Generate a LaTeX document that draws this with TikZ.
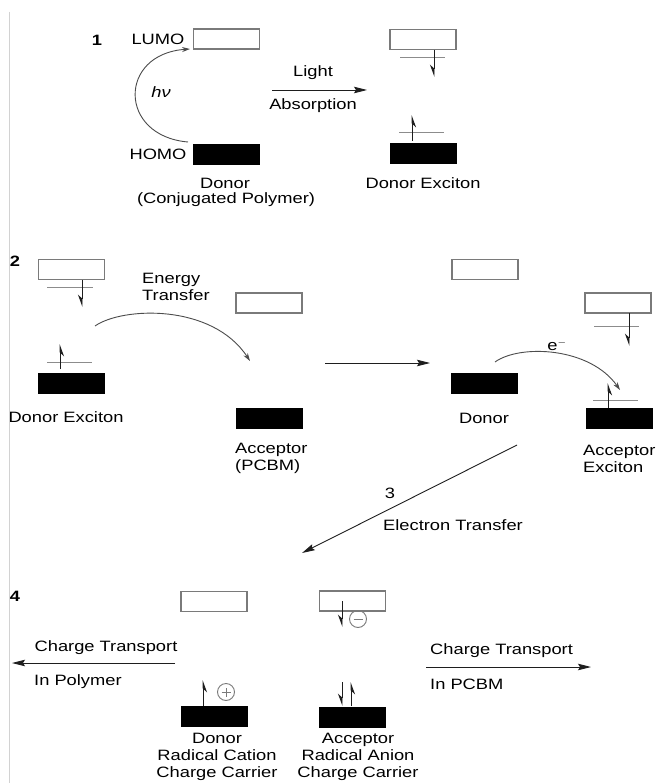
\documentclass[tikz,border=0pt]{standalone}
\usepackage{fontspec}
\setmainfont{Liberation Sans}[FakeStretch=1.22]
\usetikzlibrary{arrows.meta}

\definecolor{boxgray}{HTML}{7A7A7A}
\definecolor{levelgray}{HTML}{8C8C8C}
\definecolor{inkgray}{HTML}{1E1E1E}

\tikzset{
  lumo/.style={draw=boxgray, line width=1.3pt, fill=white, minimum width=66pt,
               minimum height=20pt, inner sep=0pt},
  homo/.style={fill=black, minimum width=67pt, minimum height=21pt, inner sep=0pt},
  level/.style={draw=levelgray, line width=1pt},
  spin/.style={draw=inkgray, line width=0.9pt,
               -{Stealth[harpoon,swap,length=11pt,width=8pt]}},
  arr/.style={draw=inkgray, line width=0.9pt,
              -{Stealth[length=13pt,width=6.5pt,inset=2pt]}},
  curv/.style={draw=black!70, line width=0.9pt, -{Stealth[length=8pt,width=5pt]}},
  lbl/.style={font=\fontsize{15}{17}\selectfont, inner sep=0pt, text=black},
  num/.style={lbl, font=\fontsize{15}{17}\selectfont\bfseries},
  charge/.style={draw=boxgray, line width=0.9pt, circle, minimum size=17pt, inner sep=0pt},
  sign/.style={draw=boxgray, line width=0.9pt}
}

\begin{document}
\begin{tikzpicture}[x=1pt, y=-1pt]
\useasboundingbox (0,0) rectangle (656,783);
\fill[white] (0,0) rectangle (656,783);
\draw[gray!35, line width=0.8pt] (9,12) -- (9,783);

% ---------------- stage 1: light absorption ----------------
\node[num] (n1) at (97,40) {1};
\node[lbl] (tLUMO) at (158,39) {LUMO};
\node[lbl] (tHOMO) at (158,154) {HOMO};
\node[lumo] (L1) at (226.5,39) {};
\node[homo] (H1) at (226.5,155) {};
\node[lbl, font=\fontsize{15}{17}\selectfont\itshape] (hv) at (161,92) {hν};
\coordinate (hvA) at (188,142);
\coordinate (hvB) at (190,49);
\draw[curv] (hvA) .. controls (118,136) and (118,54) .. (hvB);
\node[lbl] (tDon1) at (225,183) {Donor};
\node[lbl] (tConj) at (226,200) {(Conjugated Polymer)};

\coordinate (la1) at (272,90);
\coordinate (la2) at (367,90);
\draw[arr] (la1) -- (la2);
\node[lbl] (tLight) at (313,73) {Light};
\node[lbl] (tAbs) at (313,106) {Absorption};

\node[lumo] (L1b) at (423,39.5) {};
\node[homo] (H1b) at (423,154) {};
\draw[level] (400,58) -- (445,58);
\draw[spin] (434,50) -- (434,77);
\draw[level] (399,133) -- (444,133);
\draw[spin] (412,141) -- (412,115);
\node[lbl] (tDX1) at (423,183) {Donor Exciton};

% ---------------- stage 2: energy transfer ----------------
\node[num] (n2) at (15,261) {2};
\node[lumo] (L2a) at (71.5,269.5) {};
\node[homo] (H2a) at (71,383.5) {};
\draw[level] (47,287) -- (93,287);
\draw[spin] (82,280) -- (82,307);
\draw[level] (47,362) -- (92,362);
\draw[spin] (60,369) -- (60,344);
\node[lbl] (tDX2) at (66,417) {Donor Exciton};

\node[lbl, anchor=west, align=left] (tET) at (142,286.5) {Energy\\Transfer};
\coordinate (et1) at (95,326);
\coordinate (et2) at (250,361);
\draw[curv] (et1) .. controls (122,307) and (212,303) .. (et2);

\node[lumo] (L2b) at (269,303) {};
\node[homo] (H2b) at (269.5,418.5) {};
\node[lbl, anchor=west, align=left] (tAcc) at (235,458.5) {Acceptor\\(PCBM)};

\coordinate (mid1) at (325,363);
\coordinate (mid2) at (430,363);
\draw[arr] (mid1) -- (mid2);

\node[lumo] (L2c) at (485,269.5) {};
\node[homo] (H2c) at (484.5,383.5) {};
\node[lbl] (tDon2) at (484,418) {Donor};

\coordinate (ea1) at (495,362);
\coordinate (ea2) at (620,390);
\draw[curv] (ea1) .. controls (520,344) and (590,347) .. (ea2);
\node[lbl] (te) at (557,345) {e$^{-}$};

\node[lumo] (L2d) at (618,303) {};
\node[homo] (H2d) at (619,418.5) {};
\draw[level] (594,326) -- (639,326);
\draw[spin] (629,313) -- (629,346);
\draw[level] (593,400) -- (638,400);
\draw[spin] (608,408) -- (608,383);
\node[lbl, anchor=west, align=left] (tAX) at (583,458.5) {Acceptor\\Exciton};

% ---------------- stage 3: electron transfer ----------------
\coordinate (xf1) at (517,445);
\coordinate (xf2) at (302,553);
\draw[arr] (xf1) -- (xf2);
\node[lbl] (n3) at (390,493) {3};
\node[lbl] (tXF) at (453,525) {Electron Transfer};

% ---------------- stage 4: charge transport ----------------
\node[num] (n4) at (15,596) {4};
\node[lumo] (L4a) at (214,601.5) {};
\node[homo] (H4a) at (214.5,716.5) {};
\draw[spin] (203,706) -- (203,680);
\node[charge] (cp) at (226,692) {};
\draw[sign] ([xshift=-4.5pt]cp.center) -- ([xshift=4.5pt]cp.center);
\draw[sign] ([yshift=-4.5pt]cp.center) -- ([yshift=4.5pt]cp.center);
\node[lbl, align=center] (tCat) at (217,757) {Donor\\Radical Cation\\Charge Carrier};

\node[lumo] (L4b) at (352.5,601) {};
\node[homo] (H4b) at (352.5,717) {};
\draw[spin] (342,601) -- (342,627);
\node[charge] (cm) at (358,619) {};
\draw[sign] ([xshift=-4.5pt]cm.center) -- ([xshift=4.5pt]cm.center);
\draw[spin] (342,682) -- (342,706);
\draw[spin] (351,706) -- (351,682);
\node[lbl, align=center] (tAn) at (358,757) {Acceptor\\Radical Anion\\Charge Carrier};

\coordinate (ctL1) at (175,663);
\coordinate (ctL2) at (12,663);
\draw[arr] (ctL1) -- (ctL2);
\node[lbl] (tCTL) at (106,648) {Charge Transport};
\node[lbl, anchor=west] (tInP) at (34,682) {In Polymer};

\coordinate (ctR1) at (426,667);
\coordinate (ctR2) at (591,667);
\draw[arr] (ctR1) -- (ctR2);
\node[lbl, anchor=west] (tCTR) at (430,651) {Charge Transport};
\node[lbl, anchor=west] (tInC) at (430,684) {In PCBM};
\end{tikzpicture}
\end{document}
